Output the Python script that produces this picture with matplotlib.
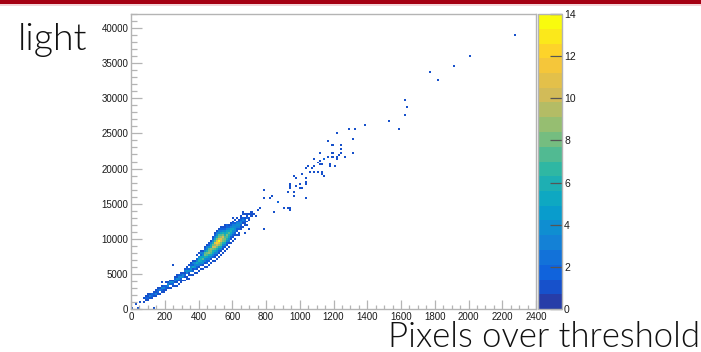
import numpy as np
import matplotlib
matplotlib.use("Agg")
import matplotlib.pyplot as plt
from matplotlib.colors import LinearSegmentedColormap, ListedColormap, BoundaryNorm
from matplotlib.patches import Rectangle
from matplotlib.ticker import MultipleLocator

# histogram binning
X_MAX, X_BINS = 2400, 200
Y_MAX, Y_BINS = 42000, 150

# dense part of the band: x bin, first y bin, counts per y bin (hex digits)
core_cols = list(range(6, 60))
core_row0 = [3, 3, 4, 4, 5, 5, 6, 6, 7, 7,
             8, 9, 9, 10, 11, 11, 12, 12, 13, 14,
             14, 15, 15, 16, 17, 18, 18, 19, 20, 20,
             21, 21, 22, 23, 24, 24, 25, 26, 27, 28,
             29, 30, 31, 33, 34, 35, 37, 38, 40, 41,
             42, 44, 45, 47]
core_counts = [
    "101", "0121", "1211", "0131", "1220", "0121", "1311", "01221",
    "10310", "01231", "11320", "12201", "01331", "10241", "12310",
    "101321", "012411", "101332", "112421", "103310", "1012131",
    "0103421", "10114201", "01034321", "10215231", "10243410",
    "1012353201", "1013465301", "1024565231", "1013475431",
    "10134687421", "101235786431", "102346987421", "101357896531",
    "1023568a86421", "1012357a9b75321", "1013468acb86431",
    "1012469bea87421", "1013578ab975321", "10124689a86421",
    "10135787654211", "1012467865321", "1013456754210", "10124565321",
    "10123454321", "10123443201", "1012343201", "10234321", "11233211",
    "10123201", "1122101", "10211", "1101", "101",
]

# single events away from the band
tail_x = [2270, 2009, 1908, 1766, 1813, 1624, 1636, 1624, 1535, 1381,
          1327, 1292, 1588, 1215, 1310, 1167, 1191, 1244, 1239, 1120,
          1197, 1244, 1316, 1173, 1191, 1215, 1227, 1268, 1084, 1126,
          1144, 1150, 1221, 1114, 1138, 1120, 1179, 1179, 1209, 1049,
          1084, 1043, 1073, 1067, 1084, 1114, 1138, 1132, 1144, 1019,
          966, 972, 1037, 1043, 1043, 942, 936, 942, 978, 996,
          996, 1013, 924, 960, 966, 1043, 830, 871, 901, 936,
          936, 847, 788, 824, 782, 788, 764, 747, 700, 711,
          865, 930, 6, 30, 47, 59, 136, 272, 250, 420,
          640, 690, 720, 180, 330, 455, 610, 660, 680, 735,
          570, 520]
tail_y = [38950, 35980, 34700, 33710, 32720, 29750, 28750, 27620, 26630, 26200,
          25500, 25500, 25500, 24930, 24220, 23940, 23370, 23370, 22950, 22240,
          22240, 22380, 22380, 21670, 21670, 21670, 21950, 21670, 21390, 21250,
          21390, 21390, 21390, 20820, 20680, 20680, 20680, 20400, 20400, 20400,
          20400, 20110, 20110, 19550, 19550, 19410, 19410, 19120, 18980, 19260,
          18980, 18700, 18700, 18130, 17710, 17710, 17420, 17140, 17420, 17710,
          17140, 17140, 16710, 16710, 16010, 15720, 16010, 15160, 14450, 14450,
          14160, 13880, 17000, 15860, 15860, 11470, 14300, 14160, 11470, 13500,
          15160, 14300, 100, 700, 100, 1000, 100, 3260, 6300, 6700,
          10500, 11800, 13600, 3900, 4300, 6600, 12900, 13900, 10900, 13300,
          11900, 11000]

# colour axis
z_max = 14
z_levels = 20
z_ticks = list(range(0, 15, 2))

# ROOT kBird palette
bird_stops = [0.0, 0.125, 0.25, 0.375, 0.5, 0.625, 0.75, 0.875, 1.0]
bird_r = [0.2082, 0.0592, 0.0780, 0.0232, 0.1802, 0.5301, 0.8186, 0.9956, 0.9764]
bird_g = [0.1664, 0.3599, 0.5041, 0.6419, 0.7178, 0.7492, 0.7328, 0.7862, 0.9832]
bird_b = [0.5293, 0.8684, 0.8385, 0.7914, 0.6425, 0.4662, 0.3499, 0.1968, 0.0539]

bird = LinearSegmentedColormap.from_list(
    "bird", [(s, (r, g, b)) for s, r, g, b in zip(bird_stops, bird_r, bird_g, bird_b)]
)
level_cmap = ListedColormap([bird((i + 1) / z_levels) for i in range(z_levels)])
norm = BoundaryNorm(np.linspace(0, z_max, z_levels + 1), z_levels)

counts = np.zeros((Y_BINS, X_BINS))
for col, row0, column in zip(core_cols, core_row0, core_counts):
    for k, ch in enumerate(column):
        counts[row0 + k, col] += int(ch, 16)
tail_hist, _, _ = np.histogram2d(tail_y, tail_x, bins=[Y_BINS, X_BINS],
                                 range=[[0, Y_MAX], [0, X_MAX]])
counts += tail_hist
counts = np.ma.masked_equal(counts, 0)

x_edges = np.linspace(0, X_MAX, X_BINS + 1)
y_edges = np.linspace(0, Y_MAX, Y_BINS + 1)

W, H = 701, 352
fig = plt.figure(figsize=(W / 100, H / 100), dpi=100)
ax = fig.add_axes([131 / W, 1 - 309 / H, 405 / W, 295 / H])
cax = fig.add_axes([538 / W, 1 - 309 / H, 24 / W, 295 / H])

mesh = ax.pcolormesh(x_edges, y_edges, counts, cmap=level_cmap, norm=norm,
                     shading="flat", linewidth=0, antialiased=False)

frame = "#b4b4b4"
label_font = ["Liberation Sans", "DejaVu Sans"]
ax.set_xlim(0, X_MAX)
ax.set_ylim(0, Y_MAX)
ax.xaxis.set_major_locator(MultipleLocator(200))
ax.xaxis.set_minor_locator(MultipleLocator(50))
ax.yaxis.set_major_locator(MultipleLocator(5000))
ax.yaxis.set_minor_locator(MultipleLocator(1000))
for side in ax.spines.values():
    side.set_color(frame)
    side.set_linewidth(1)
ax.tick_params(axis="x", which="major", direction="in", length=6.5, width=0.9,
               color=frame, pad=2, labelsize=7, labelcolor="#1a1a1a")
ax.tick_params(axis="x", which="minor", direction="in", length=3.2, width=0.9, color=frame)
ax.tick_params(axis="y", which="major", direction="in", length=7.9, width=0.9,
               color=frame, pad=2, labelsize=7, labelcolor="#1a1a1a")
ax.tick_params(axis="y", which="minor", direction="in", length=4, width=0.9, color=frame)
for lab in ax.get_xticklabels() + ax.get_yticklabels():
    lab.set_family(label_font)

cbar = fig.colorbar(mesh, cax=cax, ticks=z_ticks)
cbar.outline.set_edgecolor(frame)
cbar.outline.set_linewidth(1)
cax.tick_params(direction="in", length=8.5, width=0.9, color="#555555",
                pad=1.5, labelsize=7.5, labelcolor="#1a1a1a")
cax.minorticks_off()
for lab in cax.get_yticklabels():
    lab.set_family(label_font)

# banner strip along the top edge
fig.patches.append(Rectangle((0, 1 - 4.5 / H), 1, 4.5 / H, transform=fig.transFigure,
                             facecolor="#a50012", edgecolor="none"))
fig.patches.append(Rectangle((0, 1 - 6 / H), 1, 1.5 / H, transform=fig.transFigure,
                             facecolor="#f3d6d9", edgecolor="none"))

big_font = ["Lato", "DejaVu Sans"]
fig.text(18 / W, 1 - 50 / H, "light", fontsize=27, family=big_font, weight=320,
         ha="left", va="baseline", color="#111111")
fig.text(700 / W, 1 - 347 / H, "Pixels over threshold", fontsize=25, family=big_font,
         weight=320, ha="right", va="baseline", color="#111111")

fig.savefig("out.png", dpi=100, facecolor="white")
